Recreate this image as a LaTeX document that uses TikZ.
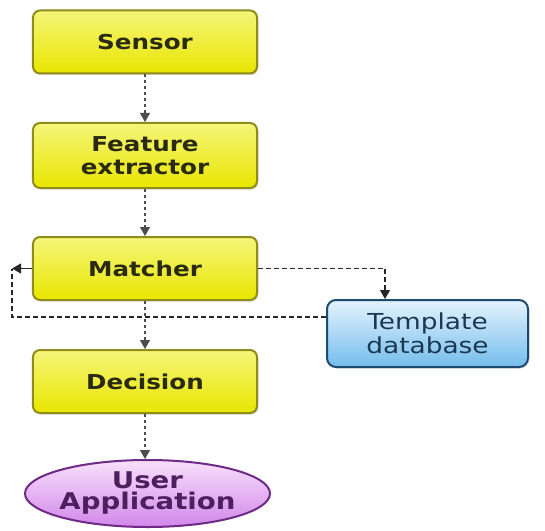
\documentclass[tikz,border=0pt]{standalone}
\usepackage{fontspec}
\setmainfont{DejaVu Sans}[FakeStretch=1.2]
\newfontfamily\boxfont{DejaVu Sans Bold}[FakeStretch=1.2]
\usetikzlibrary{arrows.meta,shapes.geometric,shadows}
\definecolor{ybord}{HTML}{8E8C1A}
\definecolor{ytop}{HTML}{F5F57A}
\definecolor{ybot}{HTML}{E8E600}
\definecolor{btop}{HTML}{E4F3FC}
\definecolor{bbot}{HTML}{74BDEC}
\definecolor{bbord}{HTML}{1E4A72}
\definecolor{ptop}{HTML}{F8E0FC}
\definecolor{pbot}{HTML}{D287EA}
\definecolor{pbord}{HTML}{6E2A84}
\definecolor{ytext}{HTML}{2A2A12}
\definecolor{btext}{HTML}{1C3850}
\definecolor{ptext}{HTML}{4E1F5E}
\tikzset{
  ybox/.style={draw=ybord, line width=2bp, rounded corners=7bp, top color=ytop, bottom color=ybot,
    minimum width=224bp, align=center, text=ytext, font=\boxfont\fontsize{20.5bp}{23bp}\selectfont,
    drop shadow={opacity=0.25, shadow xshift=1.5bp, shadow yshift=-1.5bp}},
  bbox/.style={draw=bbord, line width=2bp, rounded corners=9bp, top color=btop, bottom color=bbot,
    minimum width=201bp, minimum height=67bp, align=center, text=btext,
    font=\fontsize{22bp}{24bp}\selectfont,
    drop shadow={opacity=0.25, shadow xshift=1.5bp, shadow yshift=-1.5bp}},
  pell/.style={ellipse, draw=pbord, line width=2bp, top color=ptop, bottom color=pbot,
    minimum width=245bp, minimum height=67bp, inner xsep=-40bp, inner ysep=-10bp, align=center, text=ptext,
    font=\boxfont\fontsize{23bp}{21bp}\selectfont},
  conn/.style={draw=black!85, line width=1.1bp, dash pattern=on 5bp off 3bp},
  vconn/.style={draw=black!70, line width=1.1bp, dash pattern=on 3bp off 3bp},
  tip/.style={-{Triangle[length=9bp,width=10bp]}}
}
\begin{document}
\begin{tikzpicture}[x=1bp,y=-1bp]
\useasboundingbox[fill=white] (0,0) rectangle (545,531);
\node[ybox, minimum height=63bp] (s) at (145,42) {Sensor};
\node[ybox, minimum height=65bp] (f) at (145,155.5) {Feature\\extractor};
\node[ybox, minimum height=63bp] (m) at (145,268.5) {Matcher};
\node[ybox, minimum height=63bp] (d) at (145,381.5) {Decision};
\node[pell] (u) at (147.5,493.5) {User\\Application};
\node[bbox] (t) at (427.5,333.5) {Template\\database};
\coordinate (tdrop) at (385,268.5);
\coordinate (loopA) at (12,317);
\coordinate (loopB) at (12,268.5);
\draw[vconn,tip] (s) -- (f);
\draw[vconn,tip] (f) -- (m);
\draw[conn] (t.west |- loopA) -- (loopA) -- (loopB);
\draw[vconn,tip] (m) -- (d);
\draw[vconn,tip] (d.south) -- (d.south |- u.north);
\draw[conn] (m.east) -- (tdrop);
\draw[conn,tip] (tdrop) -- (tdrop |- t.north);
\draw[conn,tip,solid] (m.west) -- (loopB);
\end{tikzpicture}
\end{document}
